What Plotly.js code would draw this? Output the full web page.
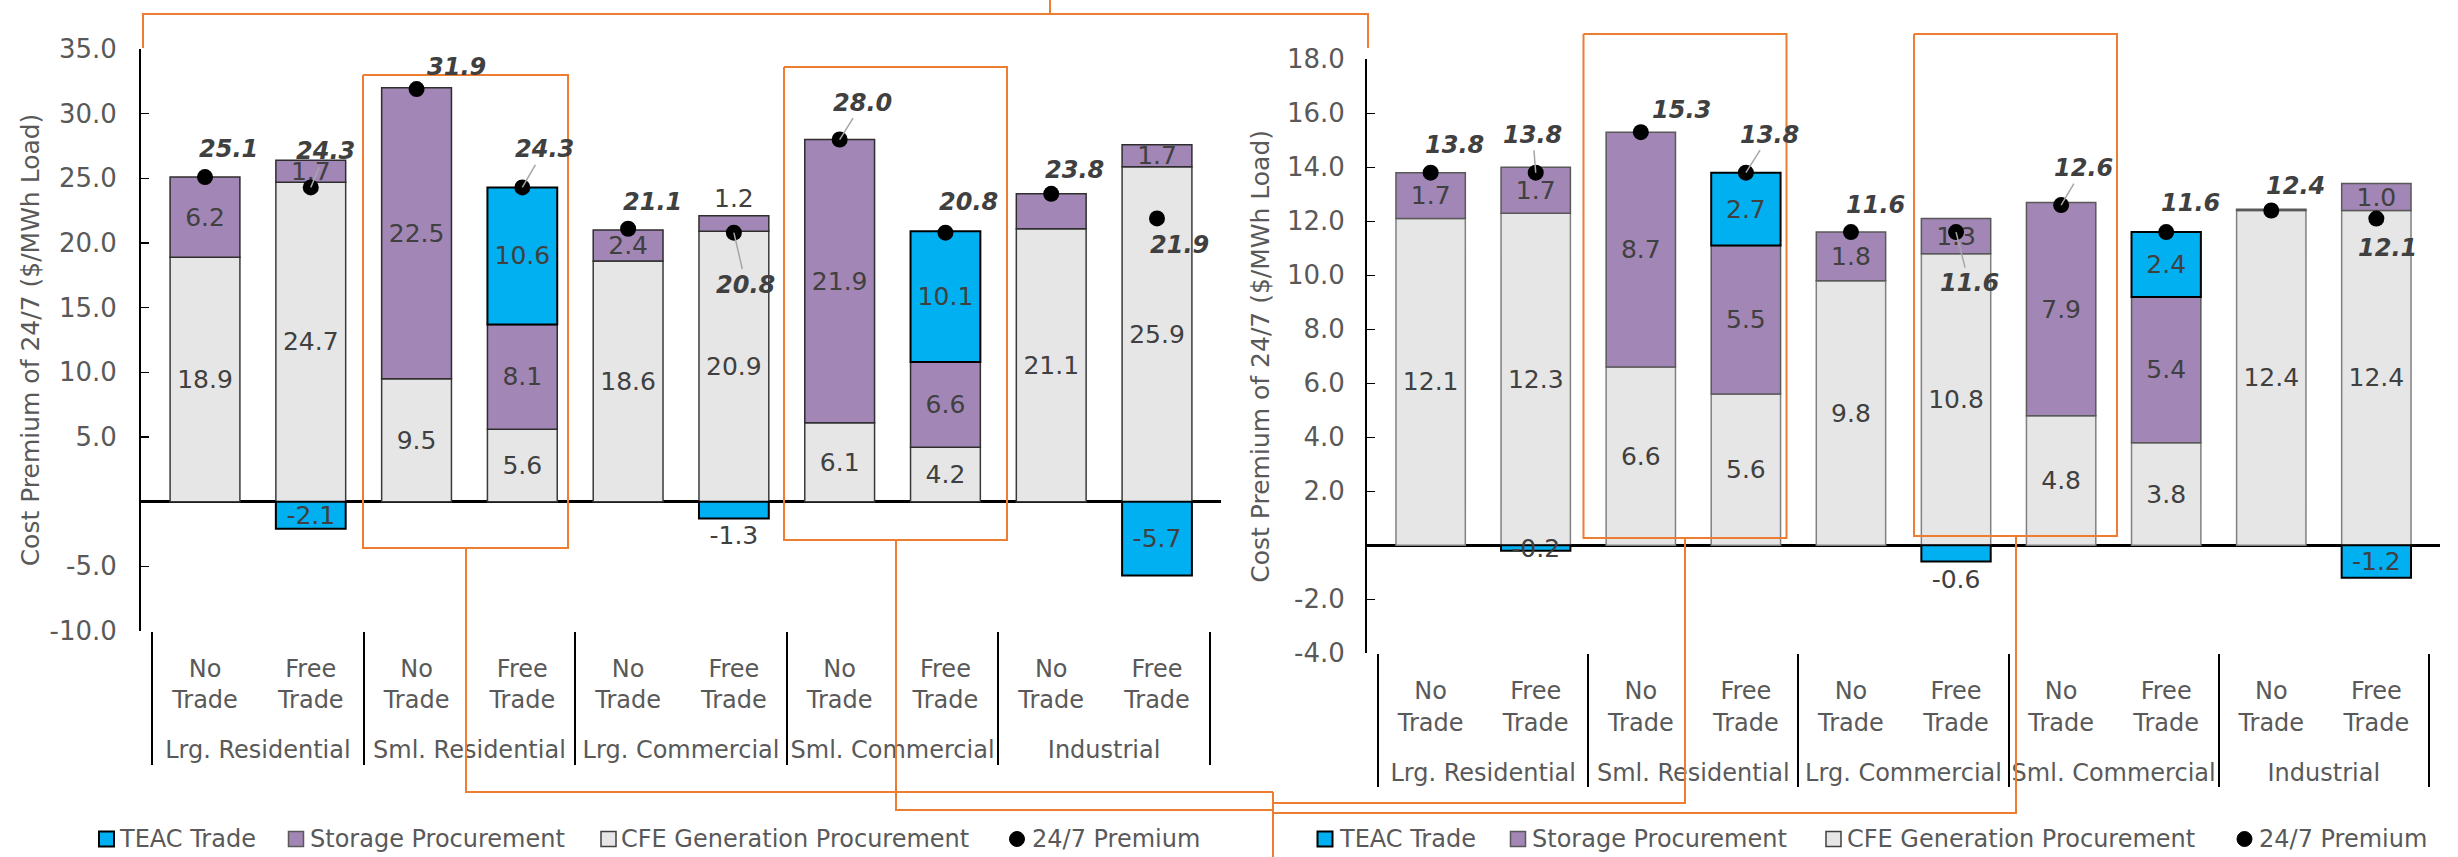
<!DOCTYPE html>
<html><head><meta charset="utf-8">
<script src="https://cdn.plot.ly/plotly-3.0.1.min.js"></script>
<style>html,body{margin:0;padding:0;background:#fff}#chart{width:2458px;height:857px}</style>
</head><body><div id="chart"></div>
<script>
// ---------------- DATA ----------------
const groups = ['Lrg. Residential','Sml. Residential','Lrg. Commercial','Sml. Commercial','Industrial'];
const scenarios = ['No Trade','Free Trade'];

const leftCFE      = [18.9, 24.7,  9.5,  5.6, 18.6, 20.9,  6.1,  4.2, 21.1, 25.9];
const leftStorage  = [ 6.2,  1.7, 22.5,  8.1,  2.4,  1.2, 21.9,  6.6,  2.7,  1.7];
const leftTEAC     = [null, -2.1, null, 10.6, null, -1.3, null, 10.1, null, -5.7];
const leftPremium  = [25.1, 24.3, 31.9, 24.3, 21.1, 20.8, 28.0, 20.8, 23.8, 21.9];

const rightCFE     = [12.1, 12.3,  6.6,  5.6,  9.8, 10.8,  4.8,  3.8, 12.4, 12.4];
const rightStorage = [ 1.7,  1.7,  8.7,  5.5,  1.8,  1.3,  7.9,  5.4, 0.05,  1.0];
const rightTEAC    = [null, -0.2, null,  2.7, null, -0.6, null,  2.4, null, -1.2];
const rightPremium = [13.8, 13.8, 15.3, 13.8, 11.6, 11.6, 12.6, 11.6, 12.4, 12.1];

const leftTickVals  = [-10, -5, 5, 10, 15, 20, 25, 30, 35];
const rightTickVals = [-4, -2, 2, 4, 6, 8, 10, 12, 14, 16, 18];
const legendNames = ['TEAC Trade', 'Storage Procurement', 'CFE Generation Procurement', '24/7 Premium'];
const yTitle = 'Cost Premium of 24/7 ($/MWh Load)';

// labels not shown in the original
const leftStorageHidden = [8];
const rightStorageHidden = [8];

// ---------------- STYLE ----------------
const C_TEAC = '#00B0F0', C_STOR = '#A286B5', C_CFE = '#E6E6E6', C_ORANGE = '#ED7D31';
const FONT = 'DejaVu Sans';
const W = 2458, H = 857;
const px = x => x / W, py = y => 1 - y / H;

const xGroup = groups.flatMap(g => scenarios.map(() => g));
// extra blank line keeps the group row lower, as in the original
const xSub = groups.flatMap(() => scenarios.map(s => s.replace(' ', '<br>') + '<br><span style="font-size:66px">\u00A0</span>'));
const X = [xGroup, xSub];

const fmt = v => (v === null ? '' : v.toFixed(1));
const labels = (arr, hidden) => arr.map((v, i) => (hidden && hidden.includes(i)) ? '' : fmt(v));

const leftTEACPos  = ['inside','inside','inside','inside','inside','outside','inside','inside','inside','inside'];
const rightTEACPos = ['inside','inside','inside','inside','inside','outside','inside','inside','inside','inside'];
const leftStorPos  = ['inside','inside','inside','inside','inside','outside','inside','inside','inside','inside'];

// premium label offsets (px) and leader flags
const leftOff  = [[23,-28],[15,-36],[40,-22],[22,-38],[24,-27],[12,52],[23,-37],[23,-31],[23,-24],[22,27]];
const leftLead = [0,1,0,1,0,1,1,0,0,0];
const rightOff = [[24,-28],[-3,-38],[41,-22],[24,-38],[25,-27],[13,51],[22,-37],[24,-29],[24,-24],[11,29]];
const rightLead= [0,1,0,1,0,1,1,0,0,0];

const textFont = {family: FONT, size: 25, color: '#404040'};

function barTrace(name, y, xa, ya, fill, lineColor, lineW, text, pos) {
  return {type: 'bar', name, x: X, y, xaxis: xa, yaxis: ya,
    marker: {color: fill, line: {color: lineColor, width: lineW}},
    text, textposition: pos || 'inside', insidetextanchor: 'middle', textangle: 0,
    textfont: textFont, outsidetextfont: textFont, insidetextfont: textFont,
    constraintext: 'none', cliponaxis: false, hoverinfo: 'skip', showlegend: false};
}
function premTrace(y, xa, ya) {
  return {type: 'scatter', mode: 'markers', name: legendNames[3], x: X, y, xaxis: xa, yaxis: ya,
    marker: {color: '#000', size: 16}, cliponaxis: false, hoverinfo: 'skip', showlegend: false};
}

const data = [
  barTrace(legendNames[2], leftCFE, 'x', 'y', C_CFE, '#3a3a3a', 1.5, labels(leftCFE)),
  barTrace(legendNames[1], leftStorage, 'x', 'y', C_STOR, '#2e2e2e', 1.5, labels(leftStorage, leftStorageHidden), leftStorPos),
  barTrace(legendNames[0], leftTEAC, 'x', 'y', C_TEAC, '#000', 2, labels(leftTEAC), leftTEACPos),
  premTrace(leftPremium, 'x', 'y'),
  barTrace(legendNames[2], rightCFE, 'x2', 'y2', C_CFE, '#808080', 1.5, labels(rightCFE)),
  barTrace(legendNames[1], rightStorage, 'x2', 'y2', C_STOR, '#595959', 1.5, labels(rightStorage, rightStorageHidden)),
  barTrace(legendNames[0], rightTEAC, 'x2', 'y2', C_TEAC, '#000', 2, labels(rightTEAC), rightTEACPos),
  premTrace(rightPremium, 'x2', 'y2'),
];

const annotations = [];
function premLabels(vals, off, lead, xr, yr) {
  vals.forEach((v, i) => {
    annotations.push({x: i, y: v, xref: xr, yref: yr, text: fmt(v),
      showarrow: true, arrowhead: 0, arrowwidth: 1.5, standoff: 0,
      arrowcolor: lead[i] ? '#A6A6A6' : 'rgba(0,0,0,0)',
      ax: off[i][0], ay: off[i][1],
      font: {family: FONT, size: 24, color: '#404040', weight: 'bold', style: 'italic'}});
  });
}
premLabels(leftPremium, leftOff, leftLead, 'x', 'y');
premLabels(rightPremium, rightOff, rightLead, 'x2', 'y2');

// ---------------- LEGENDS (drawn) ----------------
const shapes = [];
const legendY = 839;
const legendItems = [
  [[106.5, 120], [296, 311], [608.5, 622.5], [1017, 1032.5]],
  [[1325, 1340], [1518, 1532.5], [1833.5, 1848], [2244.5, 2259.5]],
];
const legendStyle = [
  {fill: C_TEAC, line: '#000', lw: 2, circle: false},
  {fill: C_STOR, line: '#595959', lw: 1.5, circle: false},
  {fill: C_CFE, line: '#404040', lw: 1.5, circle: false},
  {fill: '#000', line: '#000', lw: 1, circle: true},
];
legendItems.forEach(items => items.forEach((it, k) => {
  const st = legendStyle[k], s = 7.5;
  shapes.push({type: st.circle ? 'circle' : 'rect', xref: 'paper', yref: 'paper',
    x0: px(it[0] - s), x1: px(it[0] + s), y0: py(legendY + s), y1: py(legendY - s),
    fillcolor: st.fill, line: {color: st.line, width: st.lw}});
  annotations.push({xref: 'paper', yref: 'paper', x: px(it[1] - 3), y: py(legendY), xanchor: 'left', yanchor: 'middle',
    text: legendNames[k], showarrow: false, font: {family: FONT, size: 24, color: '#595959'}});
}));

// ---------------- ORANGE CALLOUT LINES ----------------
const orangeLines = [
  [[143,48],[143,14],[1368,14],[1368,48]],
  [[1050,14],[1050,0]],
  [[363,75],[568,75],[568,548],[363,548],[363,75]],
  [[784,67],[1007,67],[1007,540],[784,540],[784,67]],
  [[1583.5,34],[1786.5,34],[1786.5,538],[1583.5,538],[1583.5,34]],
  [[1914,34],[2117,34],[2117,536],[1914,536],[1914,34]],
  [[466,548],[466,792],[1273,792]],
  [[896,540],[896,810],[1273,810]],
  [[1273,792],[1273,857]],
  [[1273,803],[1685,803],[1685,538]],
  [[1273,813],[2016,813],[2016,536]],
];
orangeLines.forEach(pts => {
  shapes.push({type: 'path', xref: 'paper', yref: 'paper',
    path: pts.map((p, i) => (i ? 'L' : 'M') + px(p[0]) + ',' + py(p[1])).join(' '),
    line: {color: C_ORANGE, width: 2}});
});

// ---------------- AXES ----------------
function yAxis(domain, range, tickvals, anchor, standoff, titleStandoff) {
  return {domain, range, anchor, tickvals, ticktext: tickvals.map(v => v.toFixed(1)),
    ticks: 'inside', ticklen: 8, tickwidth: 1.5, tickcolor: '#000',
    showline: true, linecolor: '#000', linewidth: 2,
    zeroline: true, zerolinecolor: '#000', zerolinewidth: 2.5, showgrid: false,
    ticklabelstandoff: standoff,
    tickfont: {family: FONT, size: 26, color: '#595959'},
    title: {text: yTitle, font: {family: FONT, size: 25, color: '#595959'}, standoff: titleStandoff}};
}
function xAxis(domain, anchor) {
  return {domain, anchor, type: 'multicategory', showdividers: true, dividercolor: '#000', dividerwidth: 2,
    ticks: '', showline: false, showgrid: false, zeroline: false, ticklabelstandoff: 21,
    tickfont: {family: FONT, size: 24, color: '#595959'}};
}

const layout = {
  width: W, height: H, margin: {l: 0, r: 0, t: 0, b: 0},
  paper_bgcolor: '#fff', plot_bgcolor: '#fff',
  barmode: 'relative', bargap: 0.34, showlegend: false,
  font: {family: FONT, color: '#595959'},
  xaxis: xAxis([px(141), px(1221)], 'y'),
  yaxis: yAxis([py(631), py(49)], [-10, 35], leftTickVals, 'x', 17, 3),
  xaxis2: xAxis([px(1367), px(2440)], 'y2'),
  yaxis2: yAxis([py(653.3), py(59.3)], [-4, 18], rightTickVals, 'x2', 15, 10),
  annotations, shapes,
};

Plotly.newPlot('chart', data, layout, {staticPlot: true});
</script></body></html>
